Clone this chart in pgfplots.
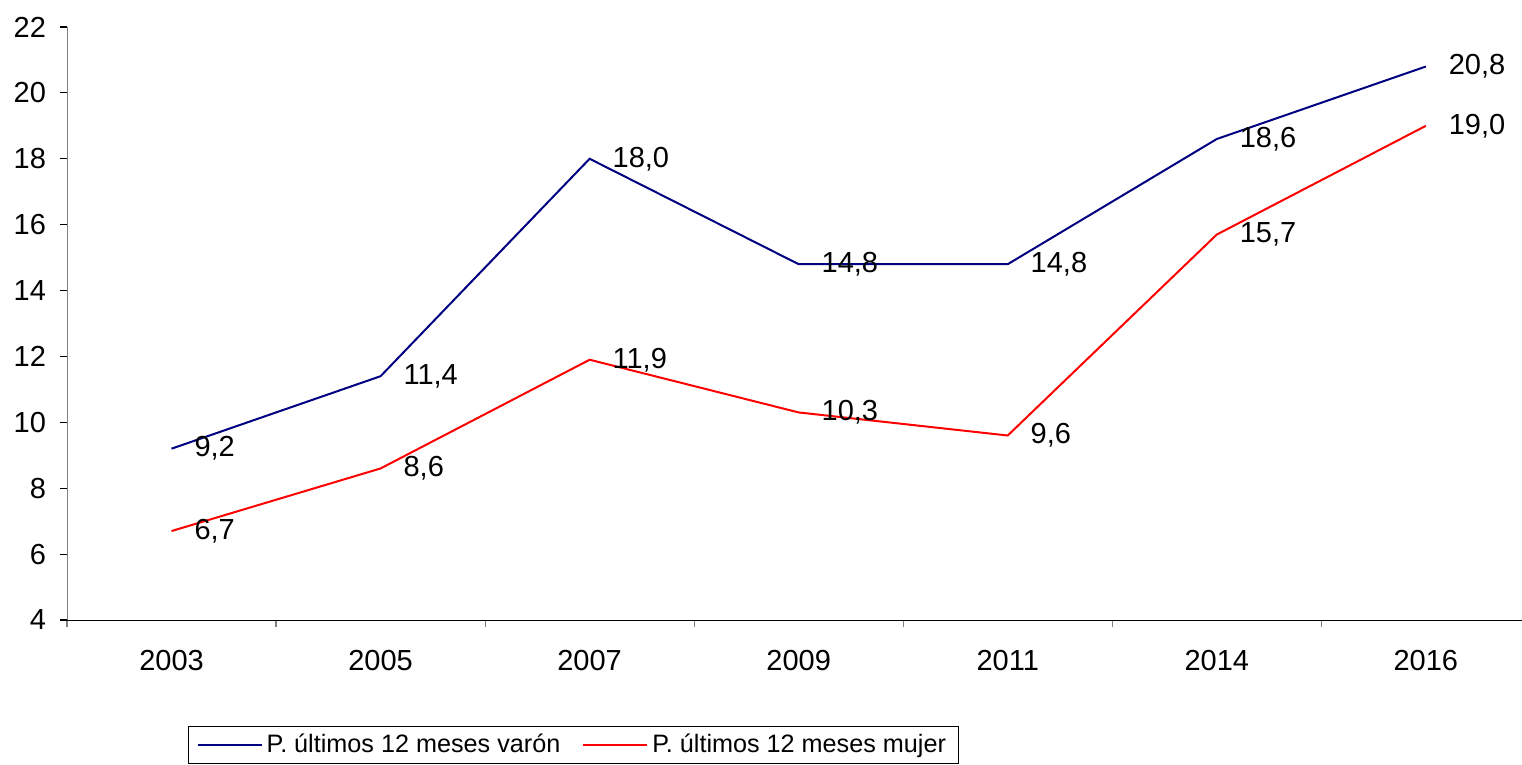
\documentclass[border=0pt]{standalone}
\usepackage{pgfplots}
\pgfplotsset{compat=1.18}
\usepackage{fontspec}
\setmainfont{Liberation Sans}
\definecolor{varon}{RGB}{0,0,128}
\definecolor{mujer}{RGB}{255,0,0}
\begin{document}
\begin{tikzpicture}
\begin{axis}[
  name=ax,
  scale only axis,
  width=727.5pt, height=296.5pt,
  xmin=-0.5, xmax=6.46,
  ymin=4, ymax=22,
  ytick={4,6,...,22},
  xtick={0,...,6},
  xticklabels={2003,2005,2007,2009,2011,2014,2016},
  minor xtick={-0.5,0.5,...,5.5},
  axis x line=bottom,
  axis y line=left,
  axis line style={-},
  y axis line style={draw=gray},
  x axis line style={draw=black},
  tick align=outside,
  major tick length=3.5pt,
  minor tick length=3.5pt,
  xtick style={draw=none},
  minor x tick style={draw=gray, line width=0.6pt},
  ytick style={draw=black, line width=0.6pt},
  tick label style={font=\fontsize{14.5}{16}\selectfont},
  xticklabel style={yshift=-8pt},
  yticklabel style={xshift=-3.5pt},
  /pgf/number format/assume math mode=true,
  /pgf/number format/.cd, use comma, fixed, fixed zerofill, precision=1,
  /pgfplots/.cd,
  yticklabel style={/pgf/number format/precision=0, /pgf/number format/fixed zerofill=false},
  nodes near coords,
  every node near coord/.append style={anchor=west, xshift=11pt, inner sep=0pt, font=\fontsize{14.5}{16}\selectfont, text=black},
  legend columns=2,
  legend style={at={(0.348,-0.211)}, anchor=center, draw=black, line width=0.5pt,
    font=\fontsize{12.6}{14}\selectfont, inner xsep=4pt, inner ysep=2pt,
    /tikz/every even column/.append style={column sep=9pt}},
  legend image code/.code={\draw[#1] (0pt,0pt) -- (32pt,0pt);},
]
\addplot[varon, line width=1pt] coordinates {(0,9.2) (1,11.4) (2,18.0) (3,14.8) (4,14.8) (5,18.6) (6,20.8)};
\addlegendentry{P. últimos 12 meses varón}
\addplot[mujer, line width=1pt] coordinates {(0,6.7) (1,8.6) (2,11.9) (3,10.3) (4,9.6) (5,15.7) (6,19.0)};
\addlegendentry{P. últimos 12 meses mujer}
\end{axis}
\pgfresetboundingbox
\path ([shift={(-33.5pt,-72.5pt)}]ax.south west) rectangle ([shift={(0pt,13.5pt)}]ax.north east);
\end{tikzpicture}
\end{document}
